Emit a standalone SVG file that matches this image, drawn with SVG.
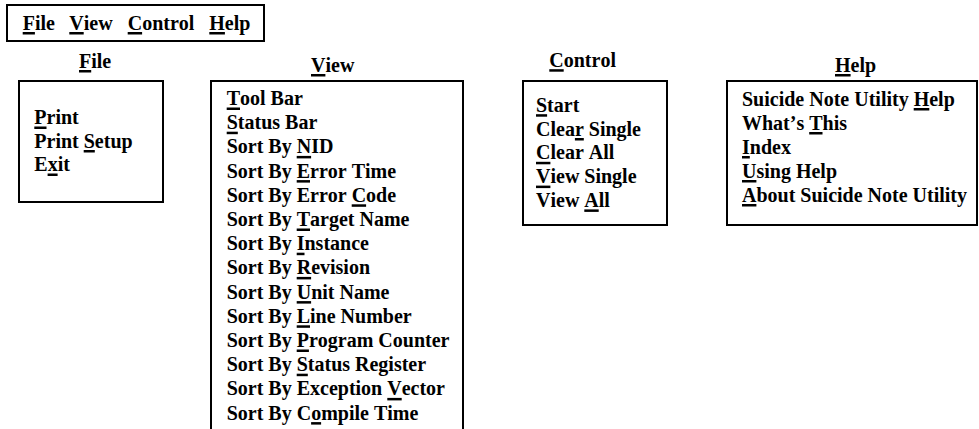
<svg xmlns="http://www.w3.org/2000/svg" width="979" height="429" viewBox="0 0 979 429">
<style>
.box{fill:#fff;stroke:#000;stroke-width:2}
text{font-family:"Liberation Serif","Times New Roman",serif;font-weight:bold;font-size:20px;fill:#000;font-kerning:none}
.u{fill:#000}
</style>
<rect width="979" height="429" fill="#fff"/>
<g id="menubar">
<rect class="box" x="7" y="5" width="257" height="36"/>
<text x="22.7" y="29.5">File</text><rect class="u" x="22.7" y="32" width="12.2" height="2.5"/>
<text x="69.3" y="29.5">View</text><rect class="u" x="69.3" y="32" width="14.4" height="2.5"/>
<text x="127.7" y="29.5">Control</text><rect class="u" x="127.7" y="32" width="14.4" height="2.5"/>
<text x="209.3" y="29.5">Help</text><rect class="u" x="209.3" y="32" width="15.6" height="2.5"/>
</g>
<g id="file-menu">
<text x="79" y="67.5">File</text><rect class="u" x="79" y="70" width="12.2" height="2.5"/>
<rect class="box" x="19" y="81" width="144" height="121"/>
<text x="34.3" y="124">Print</text><rect class="u" x="34.3" y="126.5" width="12.2" height="2.5"/>
<text x="34.3" y="147.5">Print Setup</text><rect class="u" x="83.7" y="150" width="11.1" height="2.5"/>
<text x="34.3" y="171">Exit</text><rect class="u" x="47.6" y="173.5" width="10" height="2.5"/>
</g>
<g id="view-menu">
<text x="311" y="71.5">View</text><rect class="u" x="311" y="74" width="14.4" height="2.5"/>
<rect class="box" x="211" y="81" width="252" height="360"/>
<text x="226.7" y="105">Tool Bar</text><rect class="u" x="226.7" y="107.5" width="13.3" height="2.5"/>
<text x="226.7" y="129.2">Status Bar</text><rect class="u" x="226.7" y="131.7" width="11.1" height="2.5"/>
<text x="226.7" y="153.4">Sort By NID</text><rect class="u" x="296.7" y="155.9" width="14.4" height="2.5"/>
<text x="226.7" y="177.6">Sort By Error Time</text><rect class="u" x="296.7" y="180.1" width="13.3" height="2.5"/>
<text x="226.7" y="201.8">Sort By Error Code</text><rect class="u" x="351.7" y="204.3" width="14.4" height="2.5"/>
<text x="226.7" y="226">Sort By Target Name</text><rect class="u" x="296.7" y="228.5" width="13.3" height="2.5"/>
<text x="226.7" y="250.2">Sort By Instance</text><rect class="u" x="296.7" y="252.7" width="7.8" height="2.5"/>
<text x="226.7" y="274.4">Sort By Revision</text><rect class="u" x="296.7" y="276.9" width="14.4" height="2.5"/>
<text x="226.7" y="298.6">Sort By Unit Name</text><rect class="u" x="296.7" y="301.1" width="14.4" height="2.5"/>
<text x="226.7" y="322.8">Sort By Line Number</text><rect class="u" x="296.7" y="325.3" width="13.3" height="2.5"/>
<text x="226.7" y="347">Sort By Program Counter</text><rect class="u" x="296.7" y="349.5" width="12.2" height="2.5"/>
<text x="226.7" y="371.2">Sort By Status Register</text><rect class="u" x="296.7" y="373.7" width="11.1" height="2.5"/>
<text x="226.7" y="395.4">Sort By Exception Vector</text><rect class="u" x="387.3" y="397.9" width="14.4" height="2.5"/>
<text x="226.7" y="419.6">Sort By Compile Time</text><rect class="u" x="311.1" y="422.1" width="10" height="2.5"/>
</g>
<g id="control-menu">
<text x="549.3" y="66.7">Control</text><rect class="u" x="549.3" y="69.2" width="14.4" height="2.5"/>
<rect class="box" x="523" y="81" width="144" height="144"/>
<text x="536" y="111.7">Start</text><rect class="u" x="536" y="114.2" width="11.1" height="2.5"/>
<text x="536" y="135.5">Clear Single</text><rect class="u" x="574.9" y="138" width="8.9" height="2.5"/>
<text x="536" y="159.3">Clear All</text><rect class="u" x="536" y="161.8" width="14.4" height="2.5"/>
<text x="536" y="183.1">View Single</text><rect class="u" x="536" y="185.6" width="14.4" height="2.5"/>
<text x="536" y="206.9">View All</text><rect class="u" x="584.3" y="209.4" width="14.4" height="2.5"/>
</g>
<g id="help-menu">
<text x="835" y="71.5">Help</text><rect class="u" x="835" y="74" width="15.6" height="2.5"/>
<rect class="box" x="727" y="81" width="250" height="144"/>
<text x="742" y="105.5">Suicide Note Utility Help</text><rect class="u" x="913.7" y="108" width="15.6" height="2.5"/>
<text x="742" y="129.5">What’s This</text><rect class="u" x="809.2" y="132" width="13.3" height="2.5"/>
<text x="742" y="153.5">Index</text><rect class="u" x="742" y="156" width="7.8" height="2.5"/>
<text x="742" y="177.5">Using Help</text><rect class="u" x="742" y="180" width="14.4" height="2.5"/>
<text x="742" y="201.5">About Suicide Note Utility</text><rect class="u" x="742" y="204" width="14.4" height="2.5"/>
</g>
<g id="connectors"></g>
</svg>
